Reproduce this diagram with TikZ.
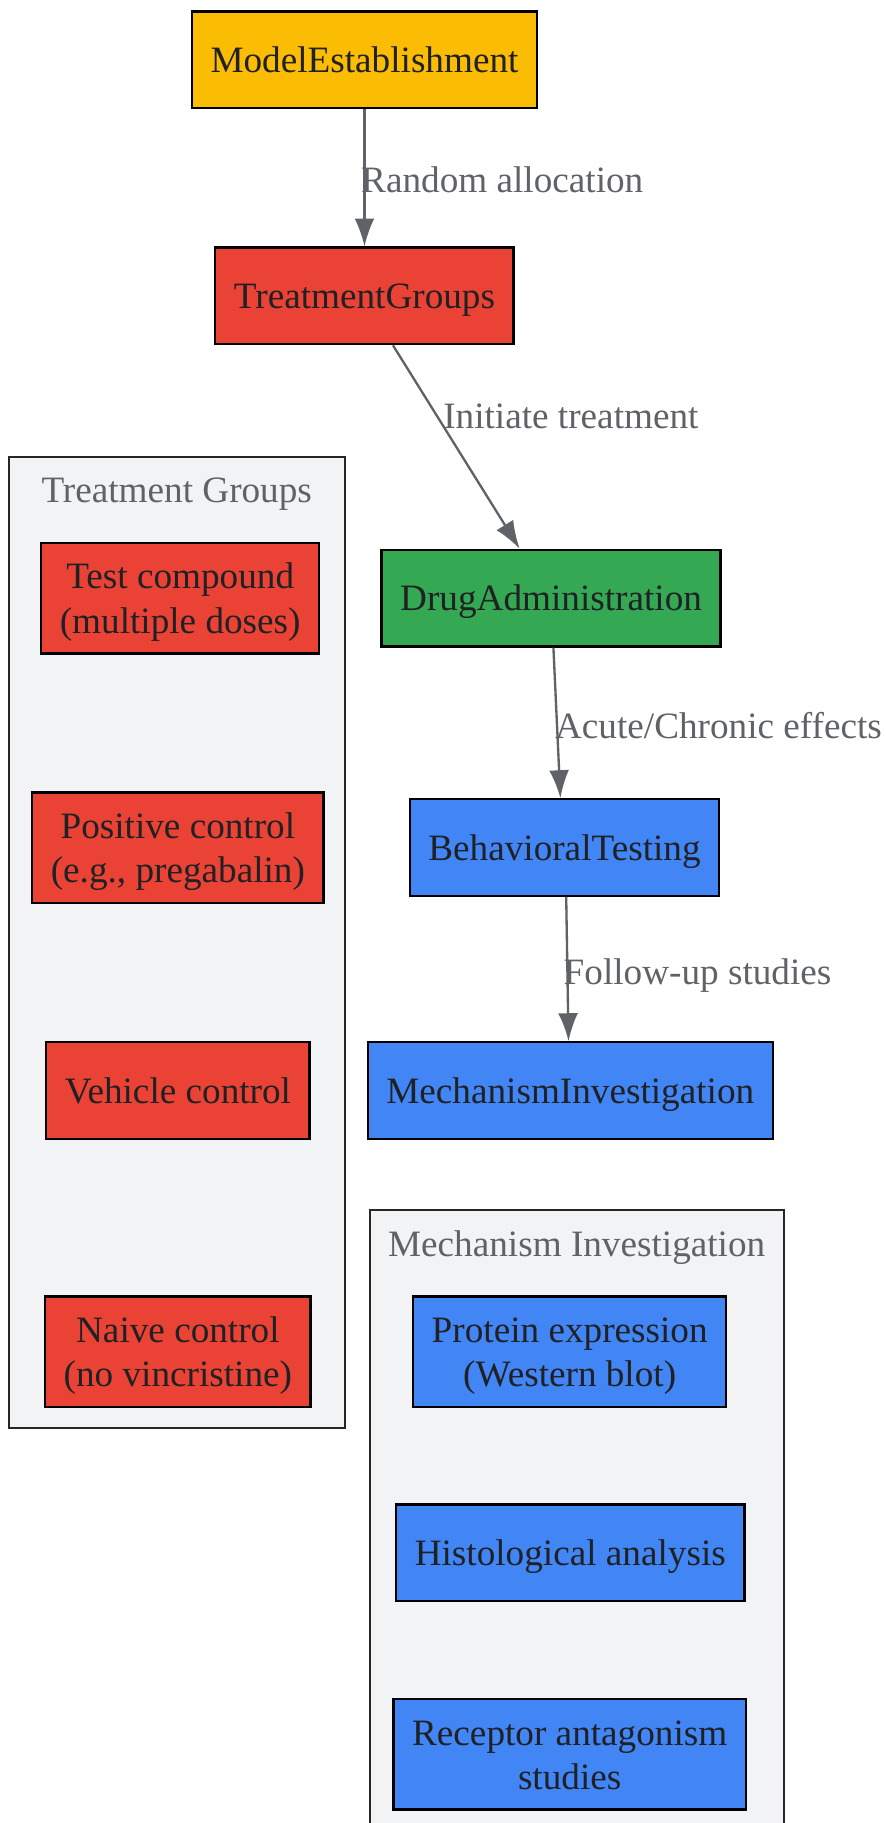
\documentclass[tikz,border=0pt]{standalone}
\usepackage{fontspec}
\setmainfont{Liberation Serif}
\usepackage{xcolor}
\usepackage{tikz}
\usetikzlibrary{shapes,arrows.meta}
\definecolor{modelyellow}{HTML}{FBBC04}
\definecolor{groupred}{HTML}{EA4335}
\definecolor{druggreen}{HTML}{34A853}
\definecolor{testblue}{HTML}{4285F4}
\definecolor{clusterbg}{HTML}{F1F3F4}
\definecolor{edgegray}{HTML}{5F6368}
\definecolor{ink}{HTML}{202124}

\begin{document}
\begin{tikzpicture}[x=0.5pt,y=-0.5pt,font=\fontsize{16}{19}\selectfont]
\tikzstyle{box}=[draw=black,line width=1pt,align=center,text=ink,inner xsep=8pt,inner ysep=0pt,minimum height=41.5pt,text height=14pt,text depth=3pt];
\tikzstyle{tall}=[box,minimum height=47.5pt,text height=34pt,text depth=4pt];
\tikzstyle{lbl}=[text=edgegray,inner sep=0pt];
\tikzstyle{flow}=[draw=edgegray,line width=1pt,-{Latex[length=12pt,width=8.5pt]}];
\tikzstyle{cluster}=[draw=black!85,line width=0.9pt,fill=clusterbg];

\useasboundingbox (0,0) rectangle (762,1568);
\fill[white] (0,0) rectangle (762,1568);

% groups
\draw[cluster] (8,393) rectangle (297,1228);
\node[lbl] (tgtitle) at (152,425) {Treatment Groups};
\draw[cluster] (318,1041) rectangle (674,1590);
\node[lbl] (mititle) at (496,1073) {Mechanism Investigation};

\node[box,fill=modelyellow] (model) at (313.5,51.5) {ModelEstablishment};
\node[box,fill=groupred] (groups) at (313.5,254.5) {TreatmentGroups};
\node[box,fill=druggreen] (drug) at (474,514.5) {DrugAdministration};
\node[box,fill=testblue] (behav) at (485.5,729) {BehavioralTesting};
\node[box,fill=testblue] (mech) at (490.5,938) {MechanismInvestigation};

\node[tall,fill=groupred] (test) at (155,514.5) {Test compound\\(multiple doses)};
\node[tall,fill=groupred] (pos) at (153,729) {Positive control\\(e.g., pregabalin)};
\node[box,fill=groupred] (vehicle) at (153,938) {Vehicle control};
\node[tall,fill=groupred] (naive) at (153,1162.5) {Naive control\\(no vincristine)};

\node[tall,fill=testblue] (protein) at (490,1162.5) {Protein expression\\(Western blot)};
\node[box,fill=testblue] (histo) at (490.5,1335.5) {Histological analysis};
\node[tall,fill=testblue] (receptor) at (490,1509) {Receptor antagonism\\studies};

\draw[flow] (model) -- (groups);
\draw[flow] ([xshift=12.25pt]groups.south) -- ([xshift=-13.5pt]drug.north);
\draw[flow] ([xshift=1pt]drug.south) -- ([xshift=-1.75pt]behav.north);
\draw[flow] ([xshift=0.75pt]behav.south) -- ([xshift=-0.75pt]mech.north);

\node[lbl] (l1) at (432,155) {Random allocation};
\node[lbl] (l2) at (491,358) {Initiate treatment};
\node[lbl] (l3) at (618,624) {Acute/Chronic effects};
\node[lbl] (l4) at (600,839) {Follow-up studies};
\end{tikzpicture}
\end{document}
